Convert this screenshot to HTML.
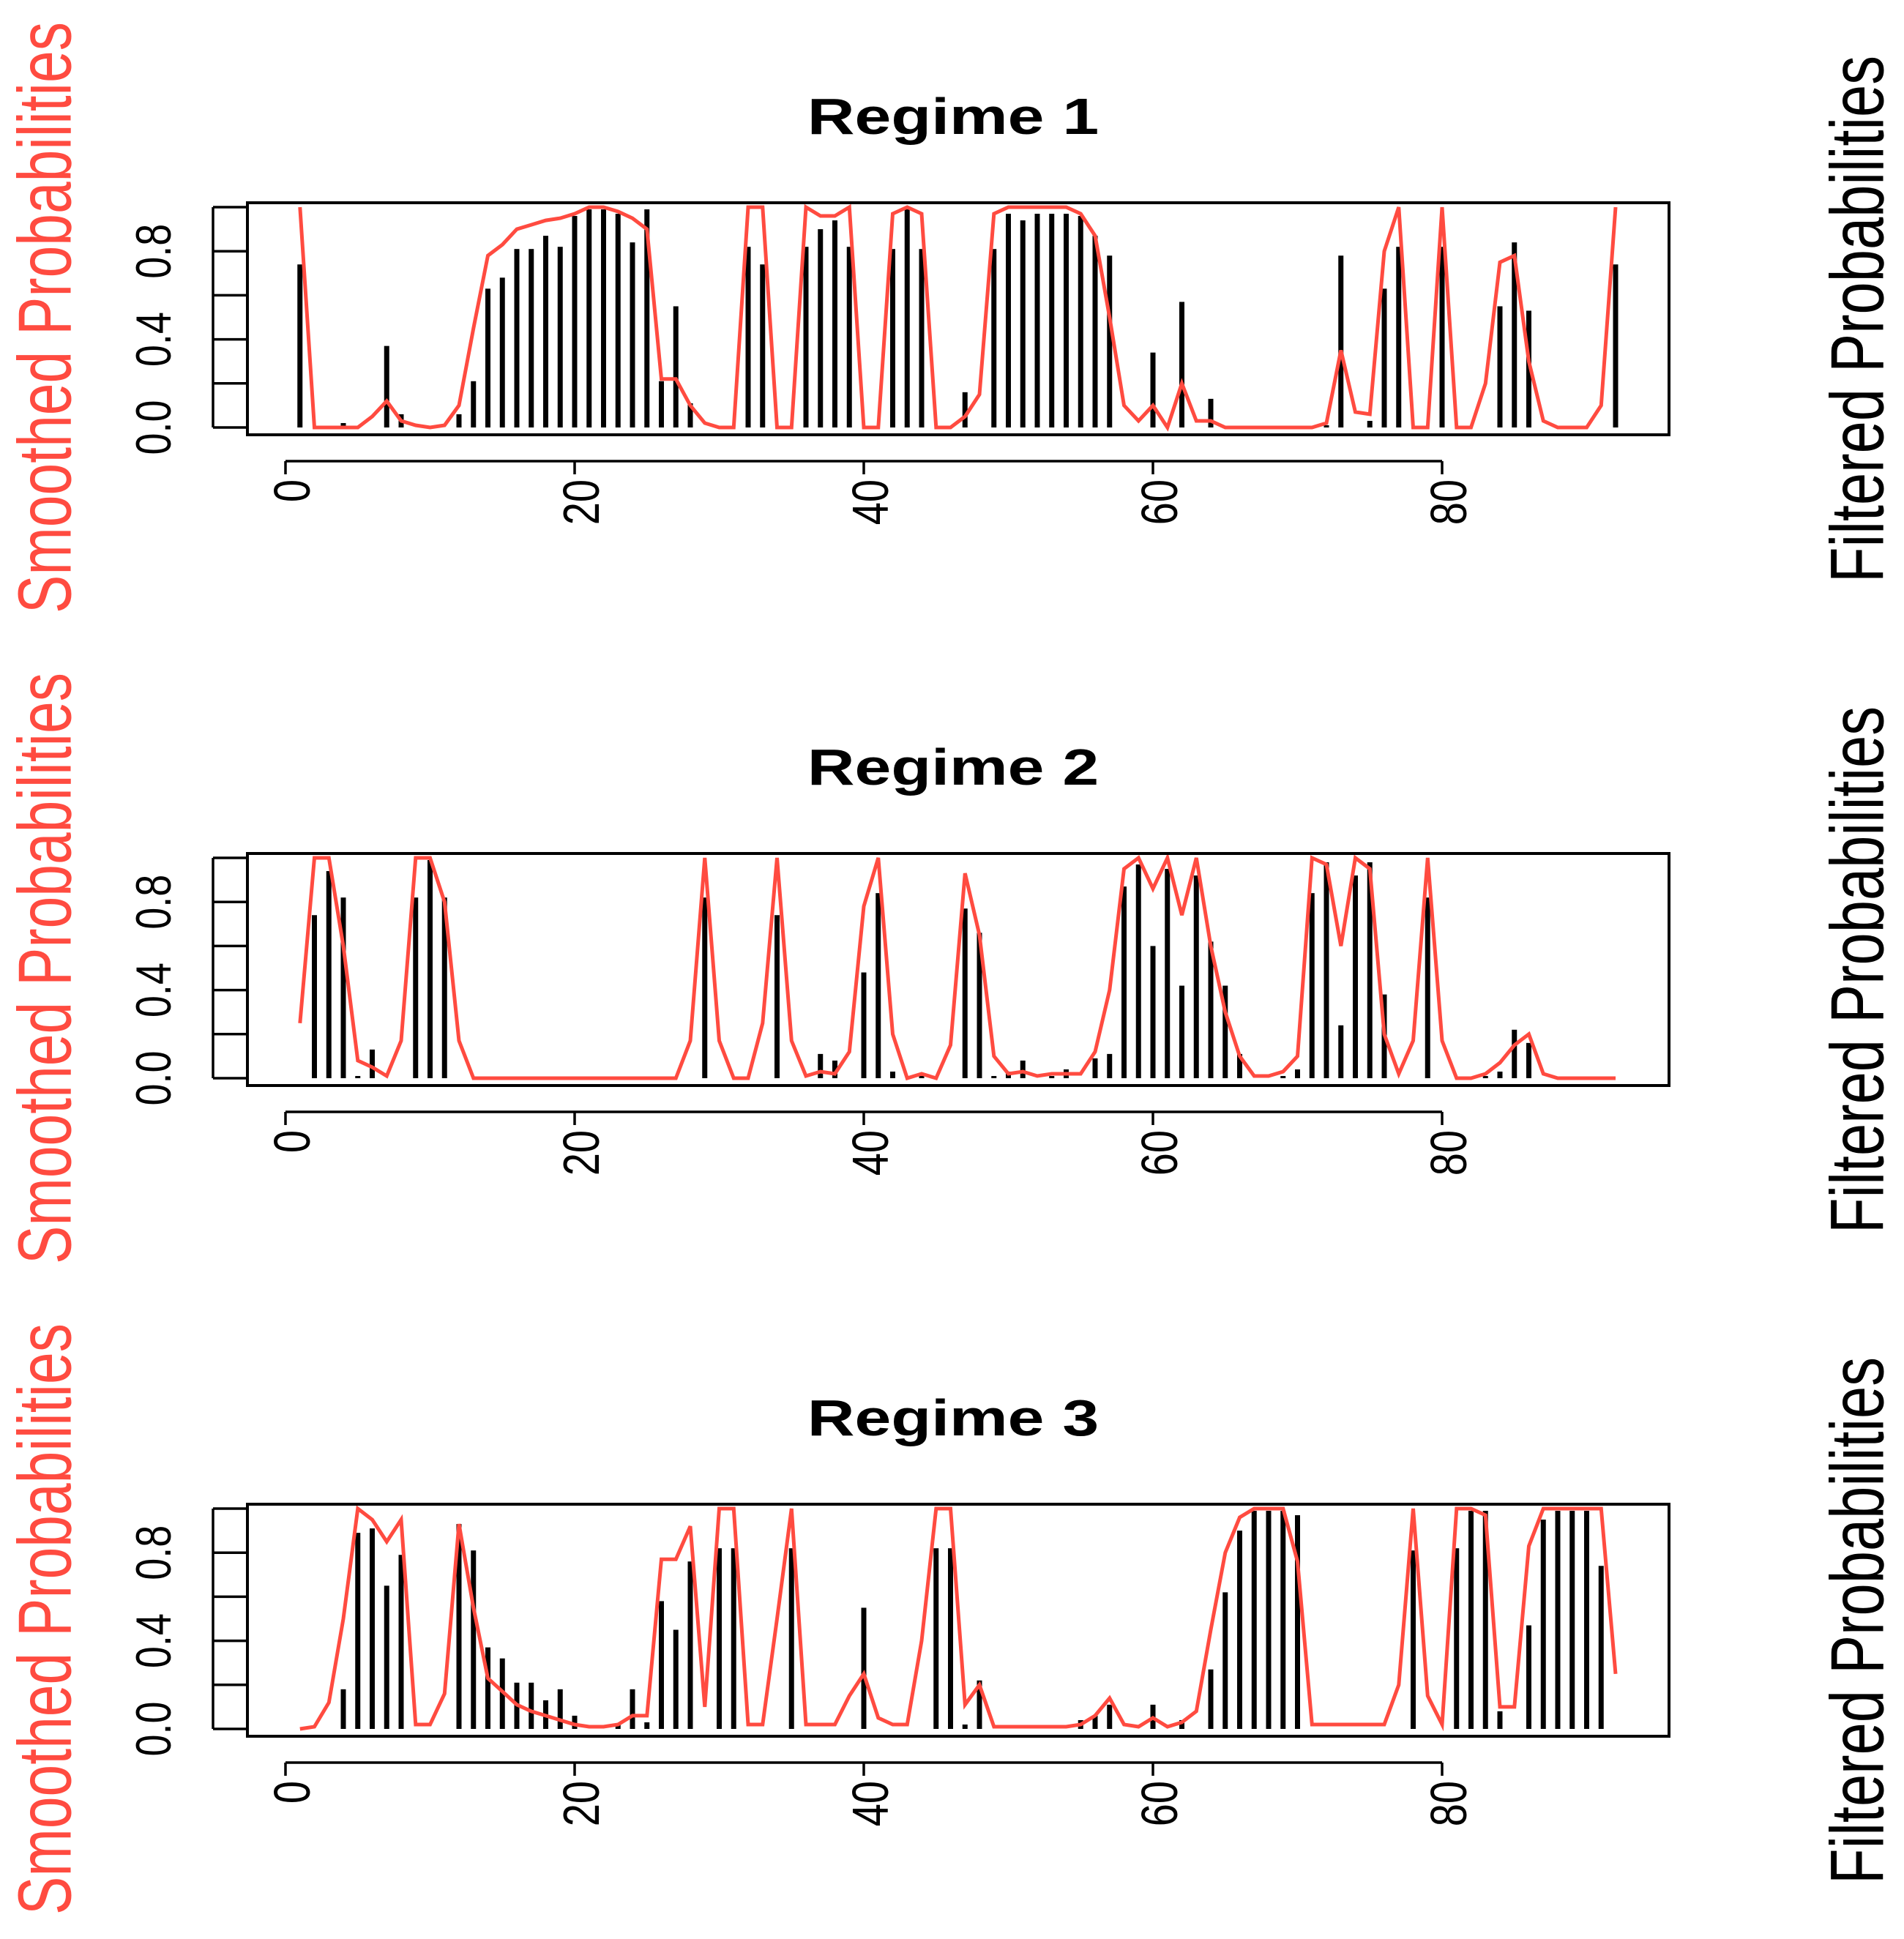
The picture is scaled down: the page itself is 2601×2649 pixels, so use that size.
<!DOCTYPE html>
<html><head><meta charset="utf-8">
<style>
html,body{margin:0;padding:0;background:#fff;}
svg{display:block;font-family:"Liberation Sans",Arial,sans-serif;}
</style></head>
<body>
<svg id="chart" width="2601" height="2649" viewBox="0 0 2601 2649" xmlns="http://www.w3.org/2000/svg"></svg>
<script>
// ---- data ----
const titles = ["Regime 1","Regime 2","Regime 3"];
const xTicks = [0,20,40,60,80];
const xTickLabels = ["0","20","40","60","80"];
const yTicks = [0,0.2,0.4,0.6,0.8,1.0];
const yTickLabels = ["0.0","","0.4","","0.8",""];
const filtered1 = [.74,0,0,.02,0,0,.37,.06,0,0,0,.06,.21,.63,.68,.81,.81,.87,.82,.96,.99,.99,.97,.84,.99,.21,.55,.11,0,0,0,.82,.74,0,0,.82,.9,.94,.82,0,0,.81,.99,.81,0,0,.16,0,.81,.97,.94,.97,.97,.97,.96,.87,.78,0,0,.34,0,.57,0,.13,0,0,0,0,0,0,0,.01,.78,0,.03,.63,.82,0,0,.82,0,0,0,.55,.84,.53,0,0,0,0,0,.74];
const smoothed1 = [1,0,0,0,0,.05,.12,.03,.01,0,.01,.1,.45,.78,.83,.9,.92,.94,.95,.97,1,1,.98,.95,.9,.22,.22,.1,.02,0,0,1,1,0,0,1,.96,.96,1,0,0,.97,1,.97,0,0,.05,.15,.97,1,1,1,1,1,.97,.87,.5,.1,.03,.1,0,.2,.03,.03,0,0,0,0,0,0,0,.02,.35,.07,.06,.8,1,0,0,1,0,0,.2,.75,.78,.3,.03,0,0,0,.1,1];
const filtered2 = [0,.74,.94,.82,.01,.13,0,0,.82,.99,.82,0,0,0,0,0,0,0,0,0,0,0,0,0,0,0,0,0,.82,0,0,0,0,.74,0,0,.11,.08,0,.48,.84,.03,0,.01,0,0,.77,.66,.01,.03,.08,0,.01,.04,0,.09,.11,.87,.97,.6,.95,.42,.92,.62,.42,.11,0,0,.01,.04,.84,.98,.24,.92,.98,.38,0,0,.82,0,0,0,.01,.03,.22,.16,0,0,0,0,0,0];
const smoothed2 = [.25,1,1,.6,.08,.05,.01,.17,1,1,.8,.17,0,0,0,0,0,0,0,0,0,0,0,0,0,0,0,.17,1,.17,0,0,.25,1,.17,.01,.03,.02,.12,.78,1,.2,0,.02,0,.15,.93,.65,.1,.02,.03,.01,.02,.02,.02,.12,.4,.95,1,.86,1,.74,1,.6,.3,.1,.01,.01,.03,.1,1,.97,.6,1,.95,.2,.02,.17,1,.17,0,0,.02,.07,.15,.2,.02,0,0,0,0,0];
const filtered3 = [0,0,0,.18,.89,.91,.65,.79,0,0,0,.93,.81,.37,.32,.21,.21,.13,.18,.06,0,0,.02,.18,.03,.58,.45,.76,0,.82,.82,0,0,0,.82,0,0,0,0,.55,0,0,0,0,.82,.82,.02,.22,0,0,0,0,0,0,.04,.06,.11,0,0,.11,0,.04,0,.27,.62,.9,.99,.99,.99,.97,0,0,0,0,0,0,0,.81,0,0,.82,.99,.99,.08,0,.47,.95,.99,.99,.99,.74,0];
const smoothed3 = [0,.01,.12,.5,1,.95,.85,.95,.02,.02,.16,.93,.55,.23,.17,.11,.08,.06,.04,.02,.01,.01,.02,.06,.06,.77,.77,.92,.1,1,1,.02,.02,.5,1,.02,.02,.02,.15,.25,.05,.02,.02,.4,1,1,.11,.2,.01,.01,.01,.01,.01,.01,.02,.06,.14,.02,.01,.05,.01,.03,.08,.45,.8,.96,1,1,1,.76,.02,.02,.02,.02,.02,.02,.2,1,.15,.02,1,1,.97,.1,.1,.83,1,1,1,1,1,.25];
const filteredSeries = [filtered1, filtered2, filtered3];
const smoothedSeries = [smoothed1, smoothed2, smoothed3];

// ---- layout ----
const NS = "http://www.w3.org/2000/svg";
const svg = document.getElementById("chart");
const PANEL_DY = 889;
const RED = "#ff4b40";
function xs(t){ return 390 + t*19.75; }
function ys(v, p){ return 584 - v*301 + p*PANEL_DY; }
function mk(tag, attrs, parent){
  const e = document.createElementNS(NS, tag);
  for (const k in attrs) e.setAttribute(k, attrs[k]);
  (parent||svg).appendChild(e);
  return e;
}

for (let p = 0; p < 3; p++) {
  const oy = p*PANEL_DY;
  const g = mk("g", {});
  
  

  const title = mk("text", {x:0, y:0, "font-size":70, "font-weight":"bold", "text-anchor":"middle",
    transform:`translate(1302,${183+oy}) scale(1.28,1)`}, g);
  title.textContent = titles[p];
  
  

  // bars (filtered)
  const barsG = mk("g", {}, g);
  
  
  const fs = filteredSeries[p];
  fs.forEach((v, i) => {
    if (v <= 0) return;
    const t = i+1;
    const b = mk("rect", {x: xs(t)-3.5, y: ys(v,p), width: 7, height: ys(0,p)-ys(v,p), fill:"#000"}, barsG);
    
    
  });

  // smoothed line
  const ss = smoothedSeries[p];
  const pts = ss.map((v,i) => xs(i+1).toFixed(1)+","+ys(v,p).toFixed(1)).join(" ");
  const line = mk("polyline", {points: pts, fill:"none", stroke: RED, "stroke-width":5, "stroke-linejoin":"miter"}, g);
  
  

  // box
  const box = mk("rect", {x:338, y:277+oy, width:1942, height:317, fill:"none", stroke:"#000", "stroke-width":4}, g);
  
  

  // y axis
  const yAx = mk("g", {}, g);
  
  
  mk("line", {x1:291, x2:291, y1:ys(0,p), y2:ys(1,p), stroke:"#000", "stroke-width":3.5}, yAx);
  yTicks.forEach((v,i) => {
    mk("line", {x1:291, x2:338, y1:ys(v,p), y2:ys(v,p), stroke:"#000", "stroke-width":3.5}, yAx);
    if (yTickLabels[i]) {
      const tl = mk("text", {x:0, y:0, "font-size":54, "text-anchor":"middle", "dominant-baseline":"central",
        transform:`translate(210,${ys(v,p)}) scale(1.25,1) rotate(-90)`}, yAx);
      tl.textContent = yTickLabels[i];
      
      
    }
  });

  // x axis
  const xAx = mk("g", {}, g);
  
  
  mk("line", {x1:xs(0), x2:xs(80), y1:630+oy, y2:630+oy, stroke:"#000", "stroke-width":3.5}, xAx);
  xTicks.forEach((t,i) => {
    mk("line", {x1:xs(t), x2:xs(t), y1:630+oy, y2:648+oy, stroke:"#000", "stroke-width":3.5}, xAx);
    const tl = mk("text", {x:0, y:0, "font-size":56, "text-anchor":"end", "dominant-baseline":"central",
      transform:`translate(${xs(t)+10},${655+oy}) scale(1.25,1) rotate(-90)`}, xAx);
    tl.textContent = xTickLabels[i];
    
    
  });

  // side labels
  const sl = mk("text", {x:0, y:0, "font-size":79, fill:RED, "text-anchor":"middle", "dominant-baseline":"central",
    textLength:808, lengthAdjust:"spacingAndGlyphs",
    transform:`translate(62,${434+oy}) scale(1.3,1) rotate(-90)`}, g);
  sl.textContent = "Smoothed Probabilities";
  
  

  const fl = mk("text", {x:0, y:0, "font-size":79, fill:"#000", "text-anchor":"middle", "dominant-baseline":"central",
    textLength:720, lengthAdjust:"spacingAndGlyphs",
    transform:`translate(2538,${436+oy}) scale(1.3,1) rotate(-90)`}, g);
  fl.textContent = "Filtered Probabilities";
  
  
}
</script>
</body></html>
